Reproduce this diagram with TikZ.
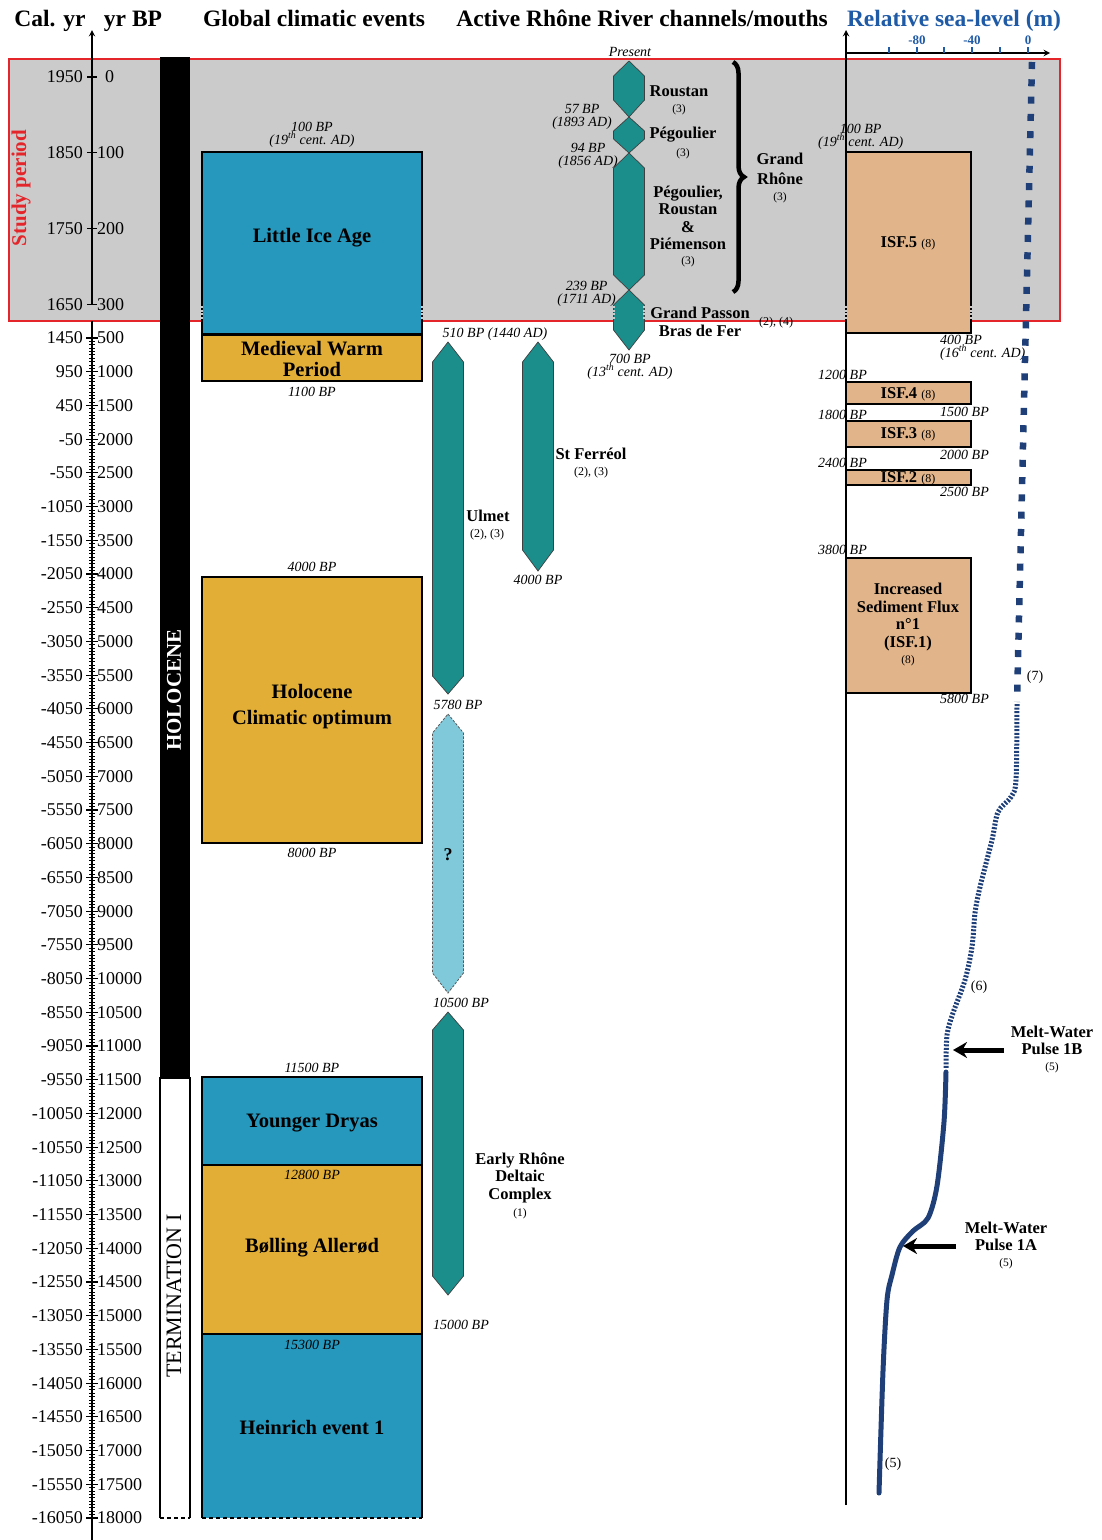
\documentclass[tikz,border=0pt]{standalone}
\usepackage{fontspec}
\setmainfont{Liberation Serif}
\usetikzlibrary{arrows.meta,decorations.pathreplacing}
\definecolor{studygray}{HTML}{CBCBCB}
\definecolor{studyred}{HTML}{E4262B}
\definecolor{coldblue}{HTML}{2698BE}
\definecolor{warmgold}{HTML}{E2AE36}
\definecolor{chanteal}{HTML}{1B8D8B}
\definecolor{chanlight}{HTML}{7FC9DB}
\definecolor{isftan}{HTML}{E2B489}
\definecolor{seablue}{HTML}{1E3F78}
\definecolor{titleblue}{HTML}{1F5AA6}

\begin{document}
\begin{tikzpicture}[x=1pt,y=-1pt,>=stealth,
  ttl/.style={font=\fontsize{23.5}{26}\selectfont\bfseries,inner sep=0pt,anchor=base},
  axlbl/.style={font=\fontsize{18}{18}\selectfont,inner sep=0pt},
  evlbl/.style={font=\fontsize{20.5}{21}\selectfont\bfseries,align=center,inner sep=0pt},
  chlbl/.style={font=\fontsize{16.5}{17.5}\selectfont\bfseries,align=center,inner sep=0pt},
  refno/.style={font=\fontsize{11.5}{12}\selectfont,inner sep=0pt},
  datelbl/.style={font=\fontsize{14}{13}\selectfont\itshape,align=center,inner sep=0pt},
  evbox/.style={draw=black,line width=2pt},
  chan/.style={fill=chanteal,draw=black!75,line width=0.7pt},
  isfbox/.style={fill=isftan,draw=black,line width=1.2pt},
  gapmark/.style={draw=studygray,line width=2.6pt,dash pattern=on 2pt off 1.6pt},
  mwarrow/.style={-{Stealth[length=14pt,width=16pt]},line width=5pt}]
\useasboundingbox (0,0) rectangle (1102,1540);

% study period
\draw[studyred,line width=2pt,fill=studygray] (9,59) rectangle (1060,321);
\node[font=\fontsize{21}{21}\selectfont\bfseries,text=studyred,rotate=90,inner sep=0pt] (study) at (21,188) {Study period};

% titles
\node[ttl] (calyr) at (50,26) {Cal. yr};
\node[ttl] (yrbp) at (133,26) {yr BP};
\node[ttl] (globtitle) at (314,26) {Global climatic events};
\node[ttl] (rhonetitle) at (642,26) {Active Rhône River channels/mouths};
\node[ttl,text=titleblue] (seatitle) at (954,26) {Relative sea-level (m)};

% time axis
\draw[line width=1.8pt] (92,1540) -- (92,321);
\draw[line width=1.8pt,->] (92,304) -- (92,30);
\foreach \t/\bx in {0/105,100/97,200/97,300/97} {
  \pgfmathsetmacro\yy{77+\t*0.757}
  \pgfmathtruncatemacro\cal{1950-\t}
  \draw[line width=1.2pt] (87,\yy) -- (97,\yy);
  \node[axlbl,anchor=east] (cal\t) at (83,\yy) {\cal};
  \node[axlbl,anchor=west] (bp\t) at (\bx,\yy) {\t};
}
% 50 yr ticks
\foreach \k in {1,...,349} {
  \pgfmathsetmacro\yy{338+\k*3.37145}
  \draw[line width=0.9pt] (89,\yy) -- (95,\yy);
}
% 500 yr ticks
\foreach \k in {0,...,35} {
  \pgfmathsetmacro\yy{338+\k*33.7145}
  \draw[line width=1.2pt] (86,\yy) -- (98,\yy);
  \node[axlbl,anchor=east] (calk\k) at (83,\yy) {\the\numexpr1450-500*\k\relax};
  \node[axlbl,anchor=west] (bpk\k) at (97,\yy) {\the\numexpr500+500*\k\relax};
}

% Holocene / Termination column
\fill (160,57) rectangle (190,1078);
\draw[line width=2pt] (160,1518) -- (160,1078) -- (190,1078) -- (190,1518);
\draw[line width=2pt,dash pattern=on 4pt off 3pt] (160,1518) -- (190,1518);
\node[font=\fontsize{21}{21}\selectfont\bfseries,text=white,rotate=90,inner sep=0pt] (holo) at (174,690) {HOLOCENE};
\node[font=\fontsize{22}{22}\selectfont,rotate=90,inner sep=0pt] (term) at (174,1296) {TERMINATION I};

% global climatic events
\draw[evbox,fill=coldblue] (202,152) rectangle (422,334);
\draw[evbox,fill=warmgold] (202,335) rectangle (422,381);
\draw[evbox,fill=warmgold] (202,577) rectangle (422,843);
\draw[evbox,fill=coldblue] (202,1077) rectangle (422,1165);
\draw[evbox,fill=warmgold] (202,1165) rectangle (422,1334);
\fill[coldblue] (202,1334) rectangle (422,1518);
\draw[line width=2pt] (202,1518) -- (202,1334) -- (422,1334) -- (422,1518);
\draw[line width=2pt,dash pattern=on 4pt off 3pt] (202,1518) -- (422,1518);
\node[evlbl] (lia) at (312,238) {Little Ice Age};
\node[evlbl] (mwp) at (312,359) {Medieval Warm\\Period};
\node[evlbl,font=\fontsize{20.5}{26}\selectfont\bfseries] (hco) at (312,707) {Holocene\\Climatic optimum};
\node[evlbl] (yd) at (312,1123) {Younger Dryas};
\node[evlbl] (ba) at (312,1248) {Bølling Allerød};
\node[evlbl] (he1) at (312,1427) {Heinrich event 1};
\node[datelbl] (liatop) at (312,134.5) {100 BP\\(19\textsuperscript{th} cent. AD)};
\node[datelbl] (mwpbot) at (312,392) {1100 BP};
\node[datelbl] (hcotop) at (312,567) {4000 BP};
\node[datelbl] (hcobot) at (312,853) {8000 BP};
\node[datelbl] (ydtop) at (312,1068) {11500 BP};
\node[datelbl] (batop) at (312,1175) {12800 BP};
\node[datelbl] (he1top) at (312,1345) {15300 BP};

% Rhone channels
\foreach \cx/\ya/\yb/\yc/\yd in {629/61/76/100/117,629/117/131/139/153,629/153/168/275/290,629/290/305/330/350,448/342/362/676/694,538/342/362/550/571,448/1012/1030/1276/1295}
  \draw[chan] (\cx,\ya) -- (\cx+15.5,\yb) -- (\cx+15.5,\yc) -- (\cx,\yd) -- (\cx-15.5,\yc) -- (\cx-15.5,\yb) -- cycle;
\draw[fill=chanlight,draw=black!65,line width=0.8pt,dash pattern=on 2.5pt off 1.5pt] (448,714) -- (463.5,733) -- (463.5,973) -- (448,993) -- (432.5,973) -- (432.5,733) -- cycle;
\node[font=\fontsize{18}{18}\selectfont\bfseries,inner sep=0pt] (unknown) at (448,855) {?};

\node[datelbl] (present) at (630,52) {Present};
\node[chlbl] (roustan) at (679,91) {Roustan};
\node[refno] (roustanref) at (679,110) {(3)};
\node[chlbl] (pegou) at (683,135) {Pégoulier};
\node[refno] (pegouref) at (683,154) {(3)};
\node[chlbl] (prp) at (688,218) {Pégoulier,\\Roustan\\\&\\Piémenson};
\node[refno] (prpref) at (688,262) {(3)};
\node[chlbl,font=\fontsize{16.5}{18}\selectfont\bfseries] (gpass) at (700,322) {Grand Passon\\Bras de Fer};
\node[refno,font=\fontsize{12}{12}\selectfont] (gpassref) at (776,323) {(2), (4)};
\node[datelbl,anchor=east] (d57) at (612,116.5) {57 BP\\(1893 AD)};
\node[datelbl,anchor=east] (d94) at (618,155.5) {94 BP\\(1856 AD)};
\node[datelbl,anchor=east] (d239) at (616,293.5) {239 BP\\(1711 AD)};
\node[datelbl] (d700) at (630,366.5) {700 BP\\(13\textsuperscript{th} cent. AD)};
\draw[line width=4.5pt,decorate,decoration={brace,amplitude=11pt}] (733,62) -- (733,292);
\node[chlbl,font=\fontsize{16.5}{20}\selectfont\bfseries] (grhone) at (780,169) {Grand\\Rhône};
\node[refno] (grhoneref) at (780,198) {(3)};

\node[datelbl] (d510) at (495,334) {510 BP (1440 AD)};
\node[chlbl] (ulmet) at (488,516) {Ulmet};
\node[refno,font=\fontsize{12}{12}\selectfont] (ulmetref) at (487,535) {(2), (3)};
\node[chlbl] (ferreol) at (591,454) {St Ferréol};
\node[refno,font=\fontsize{12}{12}\selectfont] (ferreolref) at (591,473) {(2), (3)};
\node[datelbl] (d4000) at (538,580) {4000 BP};
\node[datelbl] (d5780) at (458,705) {5780 BP};
\node[datelbl] (d10500) at (461,1003) {10500 BP};
\node[chlbl] (early) at (520,1177.5) {Early Rhône\\Deltaic\\Complex};
\node[refno] (earlyref) at (520,1214) {(1)};
\node[datelbl] (d15000) at (461,1325) {15000 BP};

% increased sediment flux
\foreach \ya/\yb in {152/333,382/404,421/447,470/485,558/693}
  \draw[isfbox] (846,\ya) rectangle (971,\yb);
\node[chlbl] (isf5) at (908,243) {ISF.5 {\fontsize{12}{12}\selectfont\mdseries(8)}};
\node[chlbl] (isf4) at (908,394) {ISF.4 {\fontsize{12}{12}\selectfont\mdseries(8)}};
\node[chlbl] (isf3) at (908,434) {ISF.3 {\fontsize{12}{12}\selectfont\mdseries(8)}};
\node[chlbl] (isf2) at (908,478) {ISF.2 {\fontsize{12}{12}\selectfont\mdseries(8)}};
\node[chlbl] (isf1) at (908,617) {Increased\\Sediment Flux\\n°1\\(ISF.1)};
\node[refno] (isf1ref) at (908,661) {(8)};
\node[datelbl,anchor=west] (i100) at (818,136.5) {100 BP\\(19\textsuperscript{th} cent. AD)};
\node[datelbl,anchor=west,align=left] (i400) at (940,347.5) {400 BP\\(16\textsuperscript{th} cent. AD)};
\node[datelbl,anchor=west] (i1200) at (818,375) {1200 BP};
\node[datelbl,anchor=west] (i1500) at (940,412) {1500 BP};
\node[datelbl,anchor=west] (i1800) at (818,415) {1800 BP};
\node[datelbl,anchor=west] (i2000) at (940,455) {2000 BP};
\node[datelbl,anchor=west] (i2400) at (818,463) {2400 BP};
\node[datelbl,anchor=west] (i2500) at (940,492) {2500 BP};
\node[datelbl,anchor=west] (i3800) at (818,550) {3800 BP};
\node[datelbl,anchor=west] (i5800) at (940,699) {5800 BP};

% sea-level axes
\draw[line width=1.8pt,->] (846,1505) -- (846,30);
\draw[line width=1.8pt,->] (846,53) -- (1050,53);
\foreach \sx in {889,917,944,972,1000,1028}
  \draw[titleblue,line width=1.5pt] (\sx,53) -- (\sx,47);
\foreach \sx/\sl in {917/-80,972/-40,1028/0}
  \node[font=\fontsize{13}{13}\selectfont\bfseries,text=titleblue,inner sep=0pt] (sl\sx) at (\sx,40) {\sl};

% dotted edges across the time break
\foreach \gx in {92,202,422,613.5,644.5,846,971}
  \draw[gapmark] (\gx,306) -- (\gx,320);

% sea-level curve
\coordinate (sltop) at (1032,62);
\coordinate (slmid) at (1017,702);
\draw[seablue,line width=6.5pt,dash pattern=on 7pt off 10.3pt] (sltop) -- (slmid);
\draw[seablue,line width=5pt,dash pattern=on 2pt off 1.6pt] plot[smooth] coordinates {(1017,704) (1016,780) (1011,797) (998,812) (992,840) (980,887) (975,913) (972,947) (965,980) (953,1013) (947,1035) (946,1068)};
\draw[seablue,line width=5pt,line cap=round] plot[smooth] coordinates {(946,1072) (944,1122) (937,1186) (928,1218) (913,1231) (900,1247) (892,1275) (887,1300) (883,1371) (879,1493)};
\node[font=\fontsize{14}{14}\selectfont,inner sep=0pt] (ref7) at (1035,677) {(7)};
\node[font=\fontsize{14}{14}\selectfont,inner sep=0pt] (ref6) at (979,987) {(6)};
\node[font=\fontsize{14}{14}\selectfont,inner sep=0pt] (ref5) at (893,1464) {(5)};

% melt-water pulses
\node[chlbl,font=\fontsize{16.5}{17}\selectfont\bfseries] (mwb) at (1052,1040.5) {Melt-Water\\Pulse 1B};
\node[refno] (mwbref) at (1052,1068) {(5)};
\coordinate (mwbtail) at (1004,1050);
\coordinate (mwbhead) at (953,1050);
\draw[mwarrow] (mwbtail) -- (mwbhead);
\node[chlbl,font=\fontsize{16.5}{17}\selectfont\bfseries] (mwa) at (1006,1236.5) {Melt-Water\\Pulse 1A};
\node[refno] (mwaref) at (1006,1264) {(5)};
\coordinate (mwatail) at (956,1246);
\coordinate (mwahead) at (903,1246);
\draw[mwarrow] (mwatail) -- (mwahead);
\end{tikzpicture}
\end{document}
